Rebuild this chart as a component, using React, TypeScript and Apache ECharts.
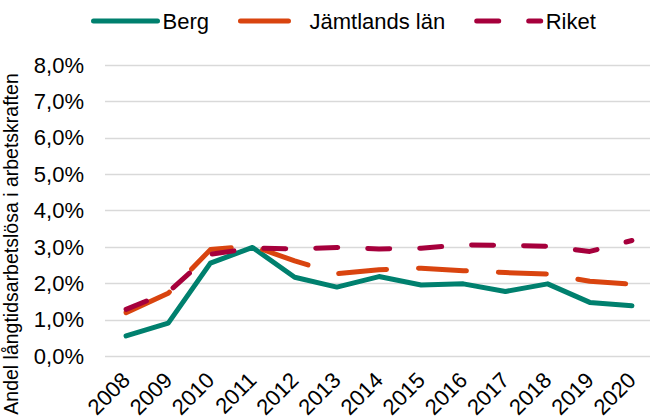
import React, { useEffect, useRef } from "react";
import * as echarts from "echarts";

const years = ["2008", "2009", "2010", "2011", "2012", "2013", "2014", "2015", "2016", "2017", "2018", "2019", "2020"];
const berg = [0.56, 0.91, 2.56, 2.99, 2.17, 1.9, 2.19, 1.96, 1.99, 1.78, 1.99, 1.48, 1.39];
const jamtland = [1.2, 1.73, 2.93, 3.03, 2.62, 2.27, 2.38, 2.42, 2.35, 2.3, 2.26, 2.06, 1.98];
const riket = [1.29, 1.76, 2.8, 2.97, 2.95, 2.99, 2.95, 2.97, 3.06, 3.05, 3.02, 2.88, 3.18];
const seriesNames = ["Berg", "Jämtlands län", "Riket"];
const yAxisTitle = "Andel långtidsarbetslösa i arbetskraften";

const FONT = "'Liberation Sans', Arial, sans-serif";

export default function App() {
  const ref = useRef<HTMLDivElement>(null);
  useEffect(() => {
    if (!ref.current) return;
    const chart = echarts.init(ref.current, undefined, { renderer: "svg" });
    chart.setOption({
      animation: false,
      backgroundColor: "#ffffff",
      textStyle: { fontFamily: FONT },
      legend: {
        data: seriesNames,
        left: 86,
        top: 5,
        itemWidth: 64,
        itemHeight: 2,
        itemGap: 29,
        itemStyle: { opacity: 0 },
        lineStyle: { width: 5, cap: "round" },
        textStyle: { fontSize: 22, color: "#000", fontFamily: FONT },
      },
      grid: { left: 105, right: -3, top: 65, bottom: 62.7, containLabel: false, outerBoundsMode: "none" },
      xAxis: {
        type: "category",
        data: years,
        boundaryGap: true,
        axisLine: { show: false },
        axisTick: { show: false },
        axisLabel: {
          interval: 0,
          rotate: 45,
          margin: 20,
          verticalAlign: "middle",
          padding: [6, 0, 0, 0],
          fontSize: 22,
          color: "#000",
          fontFamily: FONT,
        },
      },
      yAxis: {
        type: "value",
        min: 0,
        max: 8,
        interval: 1,
        axisLine: { show: false },
        axisTick: { show: false },
        splitLine: { lineStyle: { color: "#d9d9d9", width: 1.3 } },
        axisLabel: {
          margin: 21,
          fontSize: 22,
          color: "#000",
          fontFamily: FONT,
          formatter: (v: number) => v.toFixed(1).replace(".", ",") + "%",
        },
      },
      graphic: [
        {
          type: "text",
          x: 11,
          y: 244,
          rotation: Math.PI / 2,
          style: {
            text: yAxisTitle,
            fontSize: 19.5,
            fontFamily: FONT,
            fill: "#000",
            align: "center",
            verticalAlign: "middle",
          },
        },
      ],
      series: [
        {
          name: seriesNames[0],
          type: "line",
          data: berg,
          symbol: "none",
          color: "#00806E",
          lineStyle: { width: 5, color: "#00806E", cap: "round", join: "round" },
        },
        {
          name: seriesNames[1],
          type: "line",
          data: jamtland,
          symbol: "none",
          color: "#D9440F",
          lineStyle: { width: 5, color: "#D9440F", type: [48, 32], cap: "round", join: "round" },
        },
        {
          name: seriesNames[2],
          type: "line",
          data: riket,
          symbol: "none",
          color: "#A6003C",
          lineStyle: { width: 5, color: "#A6003C", type: [22, 30], cap: "round", join: "round" },
        },
      ],
    });
    return () => chart.dispose();
  }, []);
  return (
    <div
      ref={ref}
      style={{ position: "absolute", left: 0, top: 0, width: 650, height: 419 }}
    />
  );
}
